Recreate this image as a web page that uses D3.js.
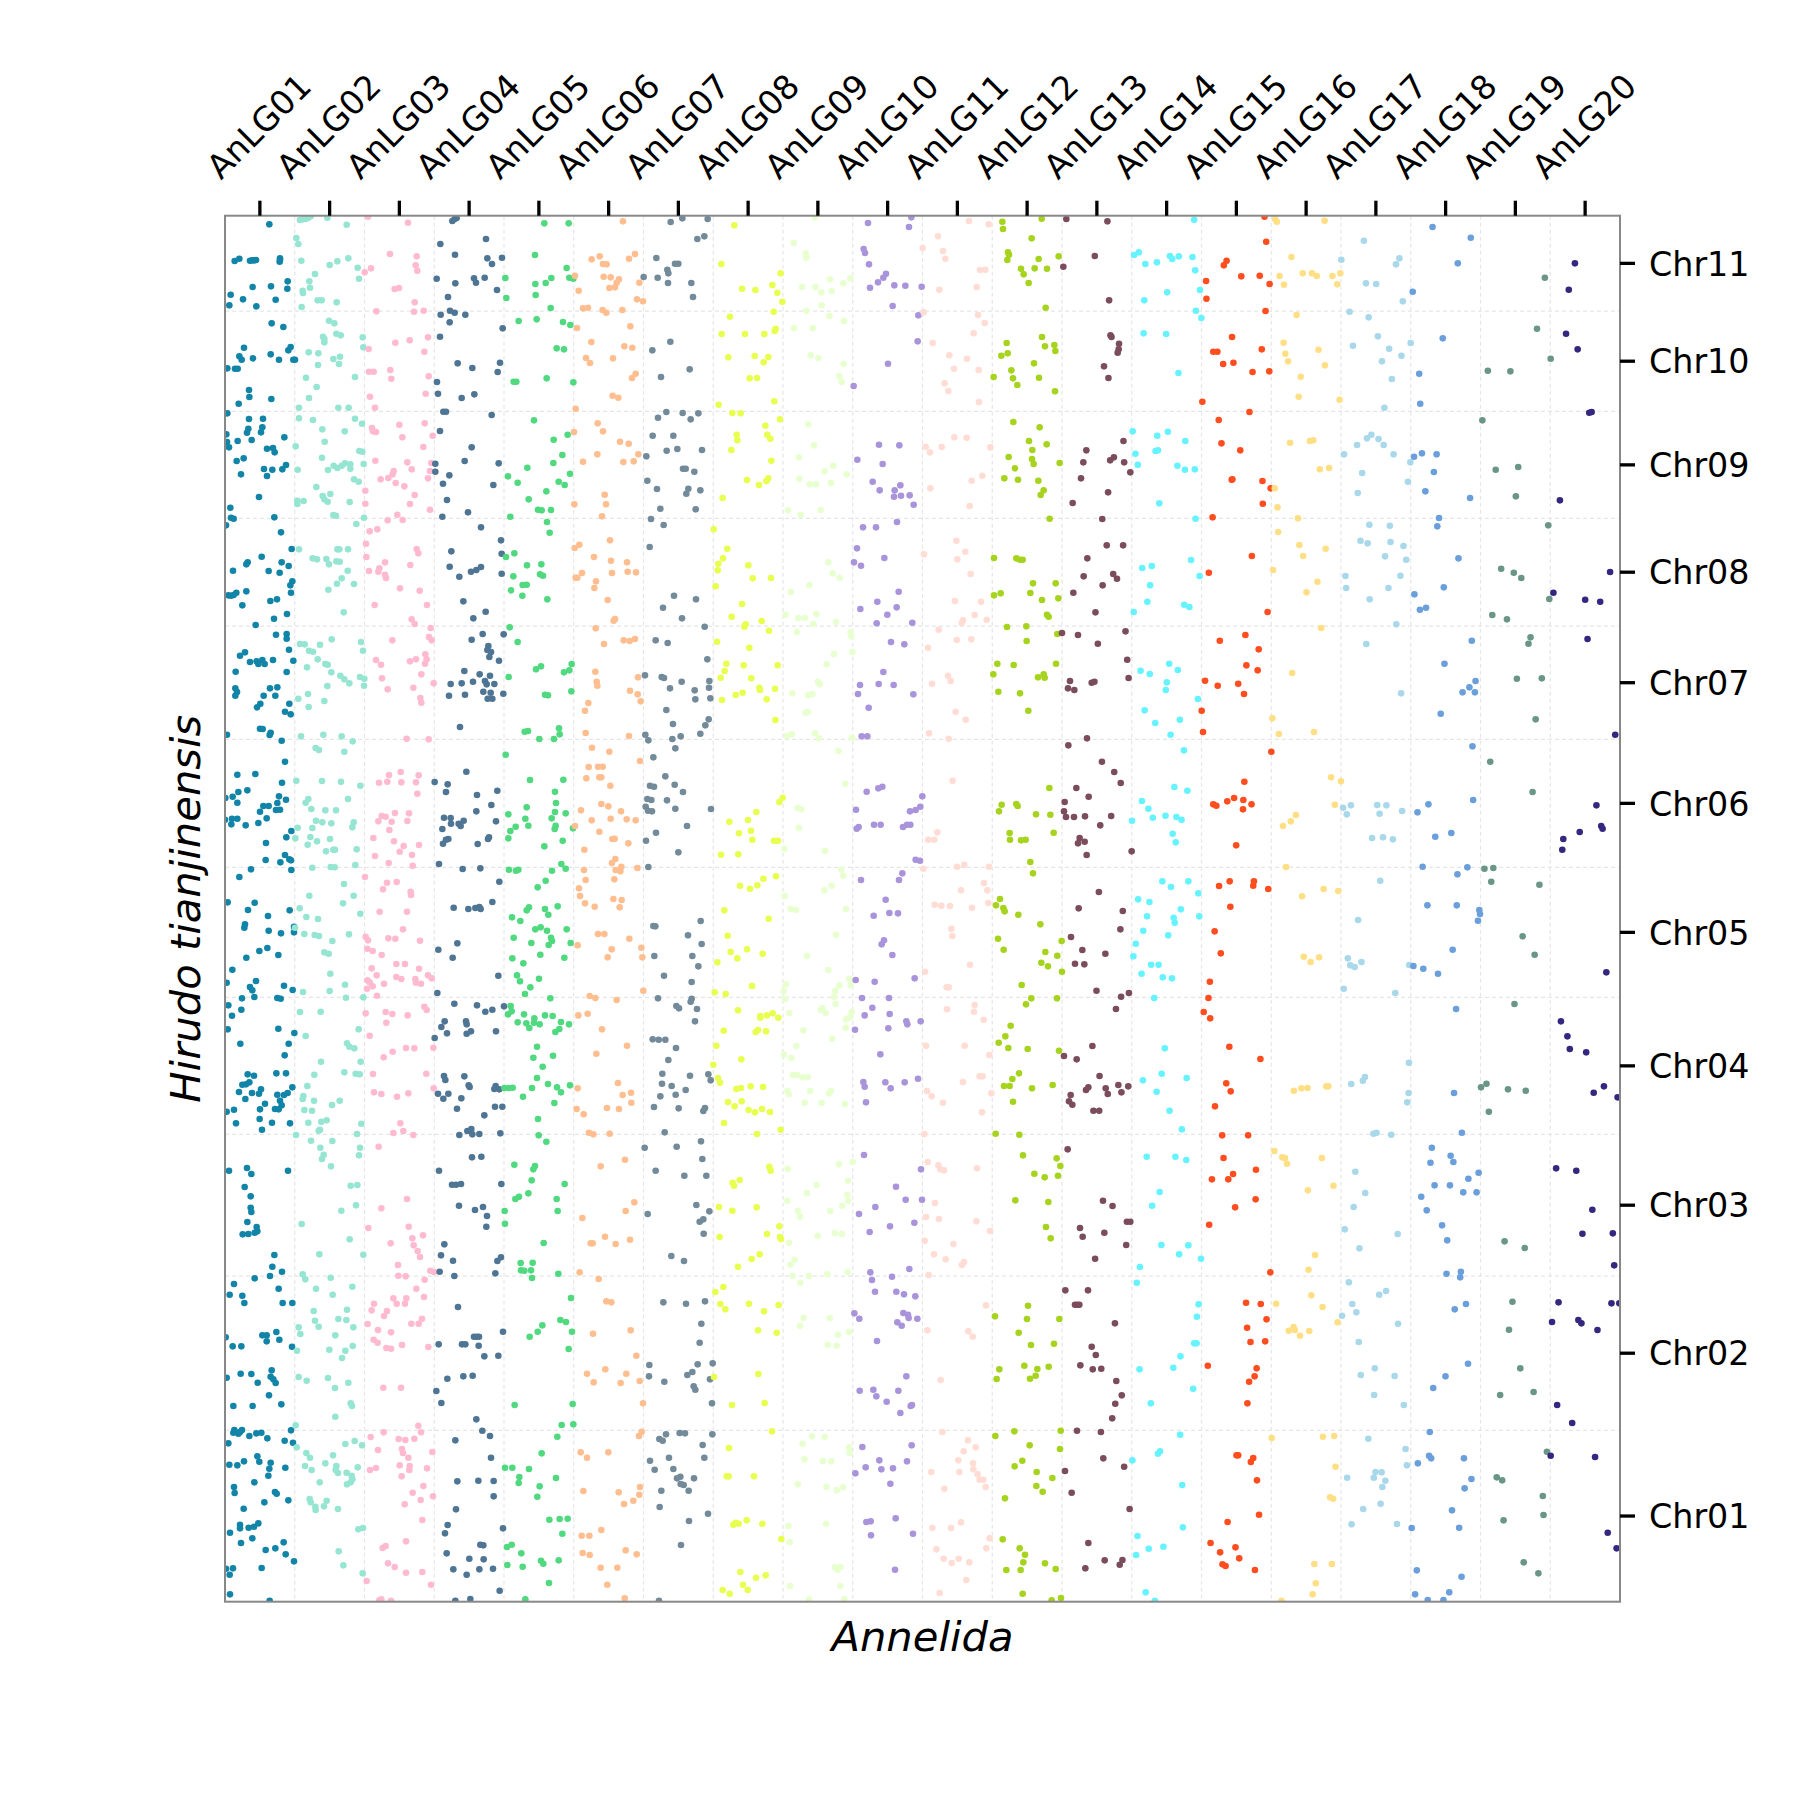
<!DOCTYPE html>
<html><head><meta charset="utf-8">
<script src="https://cdn.jsdelivr.net/npm/d3@7"></script>
<style>html,body{margin:0;padding:0;background:#fff}svg{display:block}text{font-family:"DejaVu Sans",sans-serif;fill:#000}</style>
</head><body><div id="chart"></div>
<script>
const anlgLabels=["AnLG01","AnLG02","AnLG03","AnLG04","AnLG05","AnLG06","AnLG07","AnLG08","AnLG09","AnLG10","AnLG11","AnLG12","AnLG13","AnLG14","AnLG15","AnLG16","AnLG17","AnLG18","AnLG19","AnLG20"];
const chrLabels=["Chr01","Chr02","Chr03","Chr04","Chr05","Chr06","Chr07","Chr08","Chr09","Chr10","Chr11"];
const chrEdges=[4175,3661,3198,2773,2362,1972,1588,1248,925,604,303,17];
const colours=["#1184a7","#96e5d3","#ffbad1","#4f7594","#50d97f","#ffbe8f","#728a99","#e9ff4f","#e8ffd0","#a994dc","#ffdcd4","#a6d41e","#7a4c5c","#66f3ff","#ff4d1f","#ffdf85","#a8d8ea","#6a9fdc","#6a9688","#35277f"];

const s01=[[148,43],[44,153],[58,146],[90,152],[97,151],[103,151],[108,150],[180,145],[179,155],[180,150],[203,214],[202,236],[153,229],[98,231],[32,254],[69,268],[167,269],[28,286],[109,289],[155,340],[190,351],[72,413],[212,411],[205,421],[58,439],[65,449],[99,445],[152,433],[177,449],[220,449],[225,449],[22,475],[45,476],[53,476],[87,540],[88,561],[154,567],[56,581],[22,610],[87,627],[129,626],[85,656],[127,652],[123,667],[81,668],[19,673],[53,693],[95,690],[193,682],[21,696],[27,712],[141,716],[159,714],[164,727],[71,745],[50,753],[132,777],[157,779],[198,765],[187,778],[63,793],[141,798],[117,861],[31,893],[33,923],[41,926],[163,922],[18,946],[183,967],[215,1017],[125,1040],[83,1057],[79,1063],[185,1057],[206,1068],[39,1082],[146,1083],[179,1088],[217,1114],[211,1126],[213,1148],[49,1148],[79,1144],[25,1156],[33,1157],[41,1155],[171,1168],[151,1173],[67,1186],[201,1212],[162,1226],[107,1245],[168,1274],[200,1272],[200,1286],[207,1319],[75,1327],[60,1337],[90,1356],[110,1354],[127,1350],[115,1362],[134,1362],[159,1350],[220,1352],[47,1385],[200,1386],
[46,1435],[51,1446],[46,1457],[150,1435],[172,1432],[131,1457],[166,1457],[208,1481],[121,1481],[111,1492],[195,1505],[212,1513],[120,1556],[128,1557],[152,1568],[149,1575],[21,1574],[185,1592],[195,1655],[52,1694],[106,1692],[186,1718],[82,1741],[55,1746],[38,1760],[16,1764],[52,1778],[177,1759],[198,1769],[172,1779],[130,1788],[146,1788],[168,1800],[180,1799],[120,1805],[140,1825],[36,1826],[52,1826],[15,1829],[34,1843],[77,1846],[115,1839],[214,1863],[199,1882],[138,1899],[195,1935],[137,1950],[181,1957],[208,1948],[213,1951],[214,1980],[93,1978],[58,2001],[23,2077],[104,2078],[84,2100],[209,2101],[144,2118],[75,2143],[73,2153],[146,2162],[183,2170],[222,2167],[222,2150],[175,2235],[142,2214],[118,2223],[79,2243],[37,2279],[20,2318],[108,2313],[192,2327],[218,2340],[90,2331],[97,2341],[66,2365],[103,2361],[172,2364],[182,2366],[25,2386],[64,2399],[36,2417],[175,2456],[23,2458],[223,2469],[61,2501],[206,2501],[194,2536],[83,2593],[102,2597],[169,2590],[198,2590],[67,2624],[78,2623],[88,2617],[123,2638],[217,2632],[57,2646],[96,2649],[117,2651],[172,2654],[192,2655],[203,2649],[76,2667],[180,2672],[135,2681],[185,2686],[165,2697],[176,2698],[20,2705],[42,2699],[120,2698],[119,2727],[48,2740],[156,2738],[210,2740],[126,2759],
[27,2882],[81,2874],[94,2892],[204,2882],[74,2931],[92,2959],[92,2993],[94,3006],[82,3036],[110,3051],[112,3064],[104,3068],[68,3073],[85,3072],[163,3135],[157,3170],[186,3185],[150,3198],[104,3205],[42,3222],[29,3254],[67,3257],[176,3236],[73,3279],[188,3279],[217,3279],[17,3382],[127,3376],[140,3376],[169,3366],[178,3389],[140,3394],[38,3409],[64,3409],[216,3410],[155,3481],[152,3500],[160,3508],[167,3519],[20,3503],[62,3491],[94,3492],[113,3518],[147,3556],[184,3583],[40,3588],[98,3588],[213,3661],[43,3660],[40,3668],[66,3660],[55,3671],[60,3666],[88,3678],[109,3670],[124,3668],[142,3685],[25,3700],[194,3692],[219,3698],[112,3739],[118,3755],[72,3754],[52,3766],[28,3764],[152,3758],[148,3776],[196,3773],[145,3797],[103,3817],[42,3831],[44,3849],[165,3846],[170,3851],[133,3877],[205,3871],[71,3896],[115,3940],[102,3950],[86,3953],[60,3944],[60,3955],[30,3968],[97,3985],[63,3999],[191,3997],[166,4015],[137,4020],[197,4033],[222,4054],[18,4076],[39,4075],[125,4074],[29,4094],[30,4153],[149,4172]];

const s02=[[240,30],[248,28],[256,27],[264,24],[272,19],[322,23],[380,44],[229,84],[235,102],[244,152],[329,165],[352,154],[385,145],[413,173],[417,206],[285,192],[268,214],[270,233],[248,242],[249,249],[293,271],[305,271],[350,277],[245,291],[327,332],[343,340],[309,380],[313,387],[313,397],[349,371],[362,376],[428,382],[430,412],[266,427],[295,430],[340,447],[360,440],[294,465],[357,462],[258,503],[405,501],[290,531],[267,564],[237,593],[355,593],[386,593],[237,625],[279,630],[405,626],[426,641],[307,658],[374,664],[314,695],[227,709],[418,723],[427,725],[306,743],[233,779],[324,780],[341,767],[352,774],[365,767],[375,760],[391,763],[391,776],[431,762],[402,808],[416,815],[289,831],[308,858],[331,852],[313,868],[323,875],[232,872],[232,882],[251,873],[389,876],[340,915],[348,917],[432,923],[409,942],[237,1018],[352,1018],[358,1018],[384,1018],[278,1045],[291,1048],[319,1047],[349,1054],[359,1055],[327,1063],[383,1082],[365,1105],[351,1121],[402,1122],[325,1139],[371,1207],[240,1302],[254,1303],[300,1304],[335,1288],[423,1296],[267,1322],[279,1325],[429,1322],[293,1348],[316,1362],[323,1364],[261,1372],[334,1387],[361,1397],[373,1408],[420,1401],[433,1406],
[388,1420],[322,1428],[432,1427],[235,1466],[264,1452],[313,1473],[266,1491],[243,1579],[310,1574],[365,1579],[398,1594],[287,1614],[297,1620],[373,1625],[268,2057],[372,2022],[401,2057],[369,2080],[229,1712],[306,1713],[363,1715],[421,1727],[384,1767],[265,1767],[257,1778],[274,1797],[316,1801],[348,1801],[288,1832],[307,1837],[334,1840],[401,1837],[397,1852],[233,1853],[277,1854],[271,1881],[226,1885],[330,1887],[291,1894],[263,1904],[318,1924],[340,1919],[345,1919],[410,1918],[277,1973],[332,1971],[344,1972],[406,1965],[239,2095],[259,2121],[294,2127],[421,2111],[225,2153],[253,2172],[284,2175],[297,2178],[387,2173],[337,2193],[313,2227],[326,2231],[331,2291],[375,2324],[329,2343],[249,2346],[378,2363],[430,2362],[240,2406],[302,2405],[416,2458],[257,2478],[381,2500],[388,2510],[403,2515],[303,2555],[422,2555],[373,2587],[283,2594],[407,2591],[419,2593],[262,2628],[250,2658],[248,2667],[282,2672],[359,2672],[336,2685],[253,2700],[276,2702],[265,2738],[304,2735],[320,2731],[424,2741],[300,2759],[296,2762],[228,2775],[411,2772],[273,2792],[337,2793],[301,2813],[420,2813],
[311,2834],[306,2847],[417,2836],[333,2869],[392,2927],[412,2925],[408,2986],[364,3002],[245,3042],[389,3088],[298,3133],[430,3134],[248,3193],[256,3208],[332,3203],[397,3230],[288,3236],[338,3254],[281,3303],[381,3299],[236,3352],[285,3332],[296,3350],[355,3327],[379,3330],[400,3352],[241,3372],[346,3376],[398,3408],[328,3419],[231,3422],[376,3422],[366,3444],[236,3501],[260,3512],[324,3504],[385,3518],[345,3534],[392,3580],[396,3588],[346,3620],[227,3646],[376,3702],[404,3693],[426,3706],[230,3712],[259,3729],[270,3743],[339,3736],[255,3768],[275,3780],[316,3760],[349,3768],[347,3780],[354,3789],[413,3772],[380,3788],[395,3797],[397,3808],[392,3817],[381,3823],[299,3817],[269,3867],[272,3877],[320,3872],[286,3890],[287,3900],[312,3889],[354,3897],[415,3958],[429,3954],[356,4024],[370,4066],[428,4090]];

const s03=[[444,20],[564,38],[510,132],[590,139],[587,166],[592,182],[453,175],[434,187],[524,237],[537,234],[584,277],[469,304],[582,305],[611,302],[624,382],[569,391],[526,398],[446,417],[613,425],[447,485],[461,485],[511,480],[514,506],[626,499],[450,560],[617,551],[465,593],[614,640],[538,644],[456,654],[459,664],[468,666],[547,682],[638,677],[610,711],[466,752],[562,757],[575,778],[634,759],[630,783],[521,783],[518,793],[505,804],[482,808],[624,805],[527,819],[553,829],[436,842],[584,855],[436,881],[570,882],[630,899],[532,914],[503,931],[548,930],[472,958],[449,964],[438,1001],[590,1017],[595,1030],[439,1041],[495,1057],[571,1065],[447,1083],[478,1075],[475,1085],[495,1094],[498,1104],[540,1135],[599,1142],[464,1185],[621,1185],[575,1228],[584,1242],[632,1254],[517,1291],[627,1281],[635,1291],[616,1333],[468,1350],[483,1364],[570,1354],[588,1348],[620,1348],[615,1361],[604,1393],[486,1405],
[503,1438],[580,1433],[641,1420],[601,1464],[604,1478],[560,1586],[626,1588],[507,1695],[542,1686],[596,1696],[477,1718],[502,1715],[544,1717],[588,1717],[592,1751],[485,1818],[497,1820],[525,1809],[567,1810],[475,1834],[515,1835],[562,1833],[508,1860],[460,1884],[522,1894],[551,1908],[597,1905],[539,1925],[576,1935],[465,1938],[506,1959],[578,1967],[435,2001],[501,2018],[530,2016],[489,2038],[572,2045],[573,2055],[479,2105],[561,2105],[549,2158],[437,2180],[444,2191],[505,2185],[526,2186],[600,2192],[442,2216],[458,2223],[485,2235],[529,2262],[555,2262],[455,2275],[597,2276],[470,2296],[529,2301],[544,2307],[624,2296],[635,2305],[442,2311],[449,2317],[492,2321],[586,2307],[588,2318],[603,2321],[458,2329],[441,2336],[471,2357],[437,2410],[497,2406],[517,2412],[563,2416],[613,2390],[620,2400],[499,2438],[449,2477],[558,2514],[583,2515],[640,2513],[518,2525],[491,2542],[459,2592],[619,2591],[641,2635],[462,2647],[484,2652],[531,2660],[565,2650],[541,2740],[520,2769],[550,2763],[580,2775],[476,2810],
[561,2967],[484,2995],[445,3054],[566,3050],[609,3076],[577,3085],[512,3100],[581,3106],[593,3123],[600,3141],[534,3165],[631,3182],[642,3186],[535,3197],[557,3199],[614,3209],[589,3236],[612,3261],[520,3265],[559,3265],[462,3281],[530,3281],[555,3281],[455,3301],[501,3303],[492,3318],[606,3326],[574,3341],[596,3341],[443,3342],[474,3360],[513,3367],[461,3389],[473,3398],[546,3405],[499,3414],[513,3416],[625,3411],[490,3533],[543,3533],[595,3647],[603,3667],[491,3667],[452,3681],[536,3687],[556,3690],[583,3686],[474,3720],[546,3717],[549,3729],[637,3726],[565,3743],[539,3766],[569,3768],[568,3780],[468,3774],[450,3780],[621,3775],[545,3799],[610,3828],[578,3848],[639,3859],[602,3870],[554,3883],[607,3930],[558,3994],[497,4008],[488,4014],[504,4060],[524,4071],[558,4088],[607,4086],[440,4113],[633,4124],[484,4168],[478,4171],[513,4172]];

const s04=[[697,33],[704,27],[710,24],[661,102],[798,87],[705,134],[802,145],[846,143],[816,162],[650,206],[706,220],[762,205],[768,218],[794,203],[831,240],[684,261],[690,302],[704,308],[662,314],[736,314],[689,337],[848,355],[660,380],[713,460],[757,474],[840,458],[833,486],[651,516],[654,551],[725,564],[763,553],[670,605],[678,605],[815,615],[660,663],[755,712],[734,753],[646,761],[646,785],[836,760],[688,796],[669,821],[820,825],[681,870],[667,920],[744,907],[783,952],[843,991],[694,1024],[845,1031],[689,1070],[753,1085],[769,1080],[783,1071],[718,1100],[845,1091],[730,1174],[797,1205],[760,1225],[788,1272],[851,1273],[755,1289],[805,1308],[802,1320],[813,1326],[808,1341],[837,1352],[733,1383],[779,1393],[810,1397],
[692,1422],[725,1420],[759,1415],[795,1413],[800,1423],[823,1422],[790,1445],[812,1448],[687,1457],[735,1454],[850,1451],[803,1466],[817,1466],[720,1551],[739,1685],[644,1716],[683,1723],[678,1746],[832,1742],[771,1755],[814,1785],[769,1804],[672,1823],[692,1824],[693,1841],[731,1832],[716,1841],[722,1848],[667,1857],[828,1834],[685,1887],[678,1889],[669,1901],[807,1882],[804,1887],[773,1902],[657,1962],[728,1977],[781,1975],[838,2015],[817,2076],[701,2093],[745,2097],[766,2094],[778,2091],[782,2097],[712,2200],[655,2219],[698,2243],[835,2297],[652,2349],[703,2381],[771,2386],[852,2389],[796,2405],[817,2399],[674,2434],[738,2434],[740,2443],[664,2451],[681,2470],[740,2471],[753,2464],[828,2464],[644,2484],[672,2598],[676,2610],[733,2599],[746,2626],[749,2631],[827,2628],[823,2637],[838,2638],[654,2651],[685,2651],[670,2666],[724,2665],[711,2696],[825,2690],[847,2690],[793,2716],[718,2775],[742,2763],[754,2757],[757,2773],[778,2772],[841,2770],
[756,2842],[784,2840],[657,2882],[696,2924],[708,2924],[723,2922],[844,2922],[717,2987],[789,2991],[765,3000],[801,3018],[799,3050],[673,3103],[663,3136],[699,3152],[843,3142],[832,3153],[659,3185],[703,3198],[826,3190],[714,3291],[849,3365],[656,3403],[762,3380],[770,3380],[777,3380],[726,3403],[736,3403],[776,3407],[793,3439],[835,3437],[682,3506],[730,3499],[758,3497],[649,3543],[664,3579],[769,3628],[787,3662],[810,3678],[706,3691],[813,3743],[712,3814],[775,3812],[821,3813],[821,3859],[708,3898],[683,3945],[675,3970],[849,3955],[781,4004],[790,4006],[680,4030],[748,4046],[791,4048],[700,4078],[778,4078],[819,4076],[740,4094],[839,4142],[706,4172],[751,4167]];

const s05=[[973,40],[1046,40],[945,135],[1040,174],[856,204],[994,204],[1048,203],[1060,206],[946,222],[977,219],[859,264],[947,255],[992,294],[896,333],[950,328],[1029,336],[1051,345],[1010,415],[1032,418],[881,515],[889,515],[980,505],[1060,517],[942,631],[1001,689],[1043,674],[1027,735],[1000,759],[922,773],[864,799],[893,818],[1050,791],[1016,815],[1034,825],[979,844],[926,868],[954,899],[965,901],[993,900],[871,920],[981,936],[989,968],[883,1030],[858,1041],[921,1066],[964,1063],[880,1099],[960,1093],[969,1097],[908,1125],[920,1124],[873,1141],[907,1157],[982,1168],[869,1252],[893,1296],[948,1378],[963,1369],[1055,1362],[1032,1387],[1048,1381],[866,1401],
[1054,1444],[975,1454],[984,1456],[1017,1555],[914,1565],[924,1563],[1019,1573],[958,1587],[1002,1587],[857,1634],[930,1710],[1030,1709],[1005,1745],[1008,1779],[920,1792],[1005,1806],[1037,1810],[865,1813],[995,1825],[916,1826],[925,1847],[887,1850],[871,1863],[865,1885],[1007,1847],[1004,1857],[1059,1855],[1028,1892],[973,1909],[867,1979],[888,1982],[895,1979],[1024,1962],[1037,1976],[996,1982],[977,2012],[953,2032],[1013,2089],[975,2097],[927,2092],[920,2101],[985,2114],[876,2122],[901,2133],[946,2158],[962,2152],[981,2162],[1040,2158],[881,2183],[993,2183],[996,2193],[934,2199],[986,2205],[1052,2199],[961,2234],[877,2245],[910,2260],[1033,2243],[891,2296],[957,2306],[900,2314],[931,2332],[915,2352],[991,2365],[872,2388],[875,2404],[864,2413],[912,2413],[975,2416],[998,2418],[943,2425],[893,2437],[919,2440],[942,2438],[928,2454],[959,2443],[1023,2436],[1047,2443],[1018,2457],[1006,2466],[951,2510],[999,2537],[940,2543],[968,2570],[951,2604],[853,2634],[866,2634],[878,2633],[936,2634],[984,2622],[1011,2632],[1023,2647],[1050,2626],[909,2660],[1003,2679],[954,2727],[956,2776],[979,2795],
[883,2864],[945,2868],[940,2878],[935,2911],[1034,2922],[925,2950],[897,2960],[886,2967],[1010,2967],[854,3003],[1013,3003],[855,3041],[971,3099],[902,3159],[938,3158],[903,3181],[913,3182],[933,3181],[1015,3191],[936,3204],[1053,3264],[1021,3330],[1038,3336],[967,3346],[953,3365],[1056,3365],[929,3380],[1046,3417],[884,3585],[1058,3582],[1025,3645],[1060,3643],[1012,3680],[965,3730],[855,3773],[877,3773],[927,3777],[898,3801],[896,3819],[1008,3804],[959,3829],[952,3860],[988,3929],[1019,3927],[1043,3926],[1027,3971],[861,4011],[875,4004],[904,4030],[963,4052],[970,4061],[1016,4051],[862,4065],[908,4070],[987,4119],[916,4168]];

const s06=[[1209,34],[1115,148],[1139,139],[1227,146],[1245,132],[1149,162],[1160,163],[1065,197],[1151,200],[1172,202],[1197,208],[1190,218],[1258,218],[1185,232],[1168,234],[1076,242],[1251,268],[1269,274],[1089,295],[1104,293],[1148,300],[1159,308],[1207,300],[1231,349],[1071,354],[1114,396],[1213,409],[1237,413],[1098,444],[1110,459],[1179,445],[1247,491],[1236,504],[1178,557],[1195,563],[1067,596],[1133,640],[1062,666],[1149,664],[1200,695],[1226,701],[1132,733],[1255,733],[1089,755],[1210,756],[1241,754],[1154,854],[1063,883],[1158,883],[1146,919],[1170,991],[1078,1004],[1064,1014],[1122,1041],[1173,1052],[1221,1057],[1086,1089],[1176,1089],[1223,1085],[1248,1087],[1067,1103],[1072,1103],[1128,1114],[1123,1134],[1163,1170],[1185,1227],[1181,1232],[1127,1255],[1211,1291],[1229,1293],[1245,1287],[1152,1302],[1126,1385],[1254,1402],
[1130,1415],[1132,1427],[1230,1442],[1253,1453],[1262,1474],[1105,1479],[1095,1502],[1097,1569],[1227,1578],[1116,1613],[1168,1625],[1260,1653],[1106,1671],[1134,1670],[1148,1670],[1099,1705],[1138,1702],[1144,1702],[1171,1727],[1144,1782],[1165,1789],[1083,1801],[1203,1804],[1115,1831],[1172,1826],[1220,1828],[1247,1831],[1065,1848],[1138,1865],[1177,1887],[1184,1886],[1225,1900],[1093,1919],[1186,1947],[1176,1959],[1204,1970],[1187,1980],[1201,1984],[1252,1974],[1092,1980],[1097,2010],[1183,2008],[1077,2035],[1080,2058],[1180,2067],[1205,2070],[1095,2080],[1124,2090],[1199,2092],[1134,2172],[1153,2172],[1228,2186],[1073,2206],[1264,2213],[1175,2218],[1163,2242],[1267,2242],[1270,2342],[1109,2358],[1126,2364],[1190,2370],[1075,2416],[1103,2411],[1146,2458],[1221,2507],[1129,2531],[1194,2619],[1073,2635],[1233,2648],[1208,2655],[1234,2678],[1161,2694],[1197,2697],[1070,2697],[1091,2713],[1107,2768],[1120,2773],[1169,2771],
[1215,2849],[1142,2869],[1243,2977],[1217,3003],[1087,3024],[1155,3080],[1230,3089],[1112,3100],[1118,3100],[1187,3102],[1079,3187],[1136,3207],[1159,3274],[1174,3277],[1119,3371],[1232,3361],[1249,3437],[1156,3478],[1101,3491],[1219,3491],[1121,3517],[1202,3519],[1259,3513],[1269,3580],[1265,3665],[1257,3678],[1082,3727],[1101,3743],[1165,3727],[1090,3843],[1196,3847],[1260,3831],[1258,3854],[1240,3872],[1212,3882],[1144,3960],[1085,3977],[1108,3977],[1217,4021],[1088,4029],[1109,4035],[1250,4033],[1142,4073],[1192,4073],[1162,4124],[1214,4165]];

const s07=[[1387,25],[1352,36],[1463,27],[1453,79],[1432,87],[1309,144],[1365,161],[1375,161],[1342,179],[1345,190],[1271,201],[1313,203],[1344,219],[1414,219],[1419,261],[1351,395],[1297,421],[1409,478],[1323,501],[1339,606],[1388,609],[1435,610],[1314,623],[1412,628],[1298,677],[1360,677],[1340,722],[1372,717],[1446,720],[1279,739],[1389,776],[1397,776],[1423,785],[1282,812],[1311,837],[1405,836],[1399,851],[1441,841],[1321,896],[1427,898],[1293,927],[1331,945],[1289,1011],[1362,1157],[1428,1168],[1329,1193],[1386,1225],[1454,1250],[1307,1291],[1343,1299],[1462,1348],[1275,1396],[1325,1401],[1332,1404],
[1385,1415],[1468,1413],[1467,1433],[1350,1435],[1424,1441],[1426,1468],[1471,1465],[1339,1500],[1466,1528],[1359,1542],[1456,1546],[1441,1571],[1276,1574],[1285,1591],[1357,1587],[1382,1579],[1366,1615],[1300,1642],[1336,1699],[1364,1724],[1290,1727],[1302,1730],[1389,1746],[1282,1767],[1294,1770],[1341,1771],[1277,1790],[1284,1802],[1296,1804],[1366,1796],[1473,1797],[1401,1848],[1308,1868],[1278,1892],[1375,1927],[1285,1971],[1442,2133],[1300,2148],[1306,2149],[1404,2176],[1445,2202],[1303,2238],[1417,2238],[1435,2269],[1332,2297],[1415,2316],[1314,2365],[1415,2366],[1412,2375],[1369,2388],[1377,2395],[1431,2397],[1425,2434],[1298,2488],[1316,2489],[1336,2489],[1368,2514],[1345,2550],[1327,2591],[1410,2597],[1465,2593],[1472,2611],[1326,2621],[1355,2628],[1397,2640],[1367,2654],[1321,2659],[1302,2691],[1376,2695],[1455,2694],[1450,2703],[1334,2767],[1443,2794],[1274,2813],[1370,2810],
[1447,2847],[1307,2882],[1393,2897],[1459,2897],[1429,2985],[1468,3004],[1283,3012],[1450,3028],[1439,3035],[1451,3071],[1354,3138],[1392,3153],[1330,3277],[1398,3281],[1455,3274],[1444,3341],[1439,3398],[1288,3465],[1433,3463],[1478,3460],[1417,3486],[1402,3495],[1287,3499],[1333,3515],[1470,3508],[1421,3529],[1426,3539],[1476,3580],[1338,3673],[1379,3669],[1395,3670],[1318,3687],[1328,3692],[1477,3673],[1448,3705],[1347,3743],[1453,3743],[1290,3752],[1304,3779],[1360,3777],[1381,3800],[1371,3805],[1422,3805],[1382,3822],[1391,3825],[1324,3842],[1406,3842],[1319,3891],[1464,3911],[1407,3933],[1383,4005],[1317,4172]];

const s08=[[1543,46],[1504,162],[1682,190],[1566,236],[1606,240],[1657,225],[1672,248],[1687,275],[1661,305],[1530,320],[1667,356],[1664,363],[1505,372],[1575,372],[1633,372],[1525,442],[1604,438],[1645,441],[1631,457],[1589,505],[1611,504],[1663,574],[1496,584],[1537,609],[1562,610],[1680,628],[1636,647],[1550,674],[1642,674],[1651,686],[1552,691],[1534,720],[1654,752],[1581,810],[1645,805],[1639,813],[1617,825],[1508,864],[1481,958],[1522,1016],[1509,1045],[1495,1061],[1493,1081],[1585,1066],[1598,1105],[1653,1104],[1487,1129],[1566,1182],[1535,1220],[1625,1233],[1577,1243],[1573,1250],[1647,1262],[1491,1295],[1588,1313],[1519,1361],[1571,1366],[1673,1366],[1514,1383],[1594,1405],[1502,1403],
[1618,1433],[1620,1440],[1665,1436],[1568,1448],[1547,1455],[1506,1470],[1640,1468],[1666,1530],[1688,1763],[1678,1776],[1609,1806],[1584,1830],[1528,1835],[1593,1862],[1557,1870],[1597,1889],[1662,1892],[1674,1892],[1503,1934],[1555,1933],[1630,2006],[1668,1999],[1560,2027],[1612,2026],[1590,2036],[1513,2101],[1646,2126],[1523,2177],[1581,2218],[1532,2226],[1628,2231],[1552,2245],[1492,2257],[1596,2328],[1484,2347],[1517,2352],[1554,2401],[1621,2418],[1621,2423],[1641,2416],[1658,2410],[1675,2423],[1511,2462],[1607,2466],[1614,2460],[1638,2464],[1489,2507],[1564,2548],[1480,2564],[1494,2604],[1500,2618],[1549,2637],[1563,2634],[1592,2629],[1629,2631],[1524,2676],[1565,2674],[1544,2689],[1586,2700],[1605,2707],[1626,2697],[1650,2706],[1512,2739],[1611,2772],[1682,2759],
[1648,2870],[1652,2882],[1559,2910],[1538,2918],[1542,2927],[1497,2991],[1537,3002],[1610,2992],[1678,3049],[1641,3072],[1499,3081],[1680,3081],[1683,3087],[1619,3133],[1595,3147],[1554,3170],[1510,3231],[1486,3246],[1501,3282],[1516,3298],[1587,3281],[1632,3304],[1676,3285],[1614,3361],[1670,3368],[1615,3492],[1482,3501],[1536,3585],[1634,3579],[1656,3664],[1527,3714],[1520,3799],[1526,3799],[1602,3799],[1540,3944],[1547,3938],[1556,3941],[1580,3931],[1627,3941],[1684,3987],[1561,4086],[1637,4096],[1608,4103],[1569,4124],[1583,4140],[1508,4140],[1529,4151]];

const s09=[[1785,22],[1721,99],[1757,130],[1759,143],[1830,208],[1891,205],[1870,220],[1746,231],[1786,231],[1804,247],[1835,243],[1805,286],[1759,302],[1828,318],[1872,333],[1722,355],[1778,355],[1772,436],[1795,444],[1871,461],[1858,498],[1865,516],[1765,643],[1782,706],[1737,742],[1840,767],[1814,784],[1880,793],[1738,806],[1769,823],[1788,823],[1833,819],[1704,901],[1742,914],[1802,900],[1825,1057],[1838,1090],[1859,1103],[1768,1125],[1712,1146],[1697,1214],[1735,1224],[1755,1224],[1789,1212],[1780,1242],[1848,1236],[1731,1266],[1892,1267],[1894,1279],[1897,1326],[1842,1332],[1820,1363],
[1794,1415],[1799,1423],[1717,1450],[1777,1452],[1764,1456],[1757,1508],[1764,1506],[1701,1578],[1716,1573],[1785,1570],[1797,1585],[1896,1583],[1855,1623],[1876,1721],[1733,1794],[1744,1798],[1736,1853],[1693,1916],[1815,1923],[1864,1979],[1870,1997],[1835,2027],[1813,2041],[1694,2058],[1712,2097],[1728,2099],[1878,2097],[1848,2174],[1761,2238],[1825,2280],[1888,2306],[1858,2326],[1892,2326],[1698,2323],[1691,2344],[1846,2343],[1842,2360],[1695,2367],[1847,2382],[1807,2395],[1802,2400],[1817,2408],[1895,2405],[1708,2409],[1890,2422],[1878,2428],[1877,2453],[1750,2461],[1837,2486],[1729,2508],[1692,2534],[1714,2544],[1719,2595],[1731,2595],[1748,2602],[1764,2601],[1702,2643],[1707,2653],[1771,2643],[1832,2643],[1827,2650],[1754,2678],[1805,2679],[1875,2682],
[1898,2856],[1857,2863],[1703,2877],[1884,2912],[1790,2925],[1761,2949],[1882,2954],[1885,2972],[1702,2972],[1867,2987],[1734,3003],[1831,3003],[1740,3020],[1845,3069],[1866,3072],[1793,3077],[1707,3098],[1724,3149],[1711,3164],[1883,3186],[1822,3193],[1718,3197],[1767,3198],[1741,3218],[1751,3323],[1829,3324],[1740,3348],[1887,3366],[1854,3374],[1823,3404],[1850,3407],[1776,3679],[1814,3680],[1748,3701],[1887,3712],[1889,3729],[1753,3748],[1809,3753],[1834,3754],[1733,3823],[1819,3831],[1850,3841],[1869,3832],[1705,3948],[1818,3941],[1709,3996],[1845,4072],[1862,4071],[1853,4079],[1861,4128],[1710,4128],[1767,4168],[1873,4168]];

const s10=[[2074,22],[1944,39],[2067,51],[1931,117],[1935,129],[1947,163],[1998,191],[1990,203],[1974,217],[1950,233],[2023,226],[2056,227],[2105,230],[2018,288],[2095,316],[2093,394],[2004,461],[1901,528],[1977,704],[2038,706],[1912,749],[1988,762],[1958,815],[2041,826],[2024,841],[1979,841],[2069,856],[2043,857],[2022,860],[2081,884],[2031,936],[1929,952],[1968,952],[1911,1015],[1993,1044],[1902,1057],[1923,1067],[2036,1145],[1972,1175],[2030,1192],[1921,1197],[2002,1214],[1970,1240],[2077,1238],[2013,1296],[2053,1303],[1990,1386],
[1920,1425],[1976,1422],[2021,1425],[1914,1452],[2080,1453],[1946,1493],[1925,1579],[1942,1579],[1987,1730],[1975,1735],[1940,1745],[2107,1759],[1908,1799],[2101,1790],[2087,1800],[2070,1804],[1962,1844],[1982,1844],[2071,1844],[2061,1844],[2049,1851],[1916,1851],[1910,1856],[2087,1949],[2100,1952],[2047,1990],[2037,2010],[1923,2010],[1997,2069],[2008,2109],[2034,2110],[1961,2117],[1992,2191],[1985,2203],[2017,2235],[2084,2305],[1907,2310],[1964,2315],[1926,2364],[2007,2364],[1957,2393],[1934,2416],[2009,2412],[2059,2434],[2062,2443],[2102,2434],[1905,2459],[2005,2455],[1981,2533],[1930,2616],[1934,2630],[1996,2617],[2012,2635],[2054,2617],[2094,2606],[1938,2677],
[1932,2835],[2103,2878],[2028,2930],[2057,2969],[2106,2969],[1966,2991],[1917,3012],[2010,3049],[2083,3038],[1949,3066],[2068,3177],[1951,3187],[2016,3200],[1956,3210],[1965,3245],[2029,3245],[2052,3253],[2086,3259],[1903,3310],[1918,3326],[2050,3309],[2064,3314],[2066,3324],[2092,3326],[2032,3337],[2045,3347],[1971,3393],[2059,3499],[1919,3542],[1960,3539],[2035,3542],[1969,3559],[2000,3575],[2076,3585],[2072,3588],[2041,3609],[1927,3711],[2075,3706],[1978,3751],[2061,3754],[1937,3772],[1984,3778],[2019,3775],[1906,3790],[2011,3821],[1939,3936],[1952,3934],[2027,3925],[1953,3976],[2079,3971],[2025,4079]];

const s11=[[2247,33],[2306,43],[2154,79],[2108,114],[2169,123],[2176,146],[2280,180],[2296,179],[2158,239],[2270,231],[2111,307],[2274,315],[2294,339],[2261,370],[2138,399],[2188,436],[2241,446],[2202,476],[2276,480],[2174,520],[2185,543],[2277,576],[2203,682],[2240,683],[2117,710],[2165,711],[2311,712],[2130,727],[2287,797],[2255,812],[2131,835],[2249,888],[2209,992],[2236,1025],[2112,1033],[2212,1048],[2252,1092],[2205,1173],[2283,1175],[2264,1215],[2229,1231],[2225,1239],[2300,1229],[2156,1259],[2210,1290],[2254,1288],[2124,1313],[2184,1397],
[2192,1413],[2136,1421],[2207,1505],[2237,1529],[2127,1570],[2186,1586],[2198,1712],[2152,1867],[2125,1889],[2143,1889],[2110,1976],[2211,1970],[2233,1964],[2307,1970],[2292,2019],[2223,2041],[2302,2041],[2144,2084],[2164,2087],[2190,2088],[2256,2093],[2305,2079],[2194,2156],[2197,2178],[2250,2264],[2115,2285],[2180,2332],[2186,2332],[2264,2385],[2181,2398],[2262,2405],[2291,2429],[2118,2507],[2234,2507],[2308,2535],[2279,2599],[2288,2599],[2229,2616],[2121,2643],[2135,2659],[2169,2678],[2314,2650],[2286,2707],[2113,2772],
[2123,2856],[2155,2866],[2161,2878],[2172,2881],[2271,2875],[2145,2979],[2118,3021],[2157,3027],[2269,3034],[2310,3063],[2114,3092],[2200,3102],[2142,3133],[2177,3148],[2232,3156],[2226,3165],[2126,3195],[2298,3286],[2122,3361],[2245,3364],[2258,3380],[2162,3510],[2167,3666],[2244,3691],[2267,3712],[2231,3724],[2215,3751],[2259,3760],[2134,3786],[2218,3786],[2260,3778],[2273,3793],[2279,3809],[2290,3809],[2297,3831],[2173,3836],[2137,3953],[2193,3954],[2223,3937],[2309,3985],[2299,4015],[2149,4018],[2171,4046],[2216,4046],[2195,4059],[2248,4057],[2239,4110],[2159,4149]];

const s12=[[2347,35],[2465,26],[2349,57],[2435,85],[2364,127],[2367,134],[2362,150],[2456,147],[2516,139],[2403,176],[2444,175],[2481,176],[2411,193],[2426,219],[2477,293],[2466,381],[2360,399],[2475,409],[2503,405],[2506,423],[2363,430],[2344,437],[2442,460],[2374,481],[2321,501],[2379,505],[2457,503],[2392,525],[2505,544],[2380,636],[2459,652],[2427,693],[2480,703],[2437,720],[2366,741],[2436,747],[2441,762],[2519,759],[2385,775],[2353,805],[2394,809],[2455,812],[2471,841],[2462,855],[2489,926],[2322,1044],[2389,1045],[2400,1049],[2408,1049],[2439,1120],[2507,1120],[2322,1156],[2342,1150],[2431,1149],[2466,1170],[2515,1165],[2481,1214],[2486,1220],[2361,1251],[2419,1249],[2512,1272],[2420,1293],[2332,1361],[2381,1365],[2508,1361],[2320,1393],[2471,1393],[2454,1402],[2474,1403],
[2335,1445],[2400,1450],[2425,1502],[2488,1734],[2345,1784],[2389,1782],[2393,1788],[2337,1804],[2448,1813],[2491,1814],[2369,1869],[2501,1868],[2370,1889],[2403,1891],[2417,1889],[2431,1956],[2439,1990],[2340,2067],[2328,2086],[2350,2094],[2354,2104],[2395,2114],[2461,2143],[2334,2186],[2525,2193],[2351,2219],[2476,2226],[2512,2237],[2464,2258],[2484,2269],[2526,2285],[2405,2325],[2434,2365],[2511,2365],[2418,2383],[2372,2447],[2356,2479],[2336,2498],[2365,2514],[2423,2517],[2517,2522],[2397,2590],[2377,2607],[2352,2628],[2369,2628],[2436,2635],[2498,2625],[2379,2675],[2327,2771],[2398,2774],
[2409,2836],[2510,2845],[2521,2868],[2443,2891],[2474,2902],[2514,2897],[2386,2971],[2485,2976],[2478,3051],[2492,3085],[2424,3287],[2325,3319],[2421,3327],[2518,3327],[2396,3368],[2433,3405],[2502,3401],[2413,3467],[2486,3470],[2452,3477],[2338,3478],[2447,3497],[2430,3506],[2330,3507],[2383,3664],[2522,3662],[2326,3678],[2429,3706],[2520,3717],[2407,3752],[2384,3769],[2450,3786],[2497,3804],[2449,3828],[2468,3845],[2355,3865],[2348,3988],[2399,4015],[2415,4034],[2410,4057],[2475,4060],[2359,4080],[2402,4080],[2507,4077],[2408,4151],[2523,4164],[2495,4171]];

const s13=[[2539,27],[2530,170],[2599,721],[2590,757],[2583,805],[2558,879],[2602,1045],[2591,1099],[2560,1148],[2526,1269],[2574,1275],
[2661,34],[2624,138],[2666,271],[2670,376],[2673,381],[2695,401],[2694,418],[2691,428],[2651,469],[2664,504],[2708,693],[2680,742],[2669,751],[2710,757],[2728,787],[2663,847],[2646,927],[2659,1006],[2707,1006],[2678,1092],[2689,1106],[2647,1126],[2626,1207],[2714,1264],[2633,1301],[2719,1349],[2723,1404],
[2550,1413],[2544,1435],[2563,1440],[2545,1606],[2601,1585],[2569,1734],[2606,1760],[2534,1776],[2532,1804],[2538,1821],[2562,1821],[2595,1819],[2579,1884],[2574,1900],[2594,1895],[2600,1935],[2576,2095],[2553,2181],[2587,2220],[2565,2261],[2593,2263],[2532,2538],[2570,2548],[2598,2640],[2605,2632],[2552,2655],[2547,2674],[2557,2684],[2543,2818],
[2615,1418],[2623,1415],[2645,1655],[2681,1686],[2700,1719],[2672,1818],[2640,1846],[2732,1924],[2636,2046],[2706,2103],[2699,2158],[2655,2231],[2629,2342],[2701,2360],[2724,2349],[2686,2397],[2617,2508],[2638,2598],[2656,2635],[2693,2625],[2722,2629],[2662,2652],[2702,2647],[2620,2702],[2637,2702],
[2580,3054],[2588,3080],[2536,3241],[2604,3241],[2565,3284],[2572,3284],[2578,3284],[2581,3466],[2571,3662],[2535,3783],[2555,3848],[2605,3999],[2596,4075],
[2648,2972],[2676,2988],[2718,3035],[2728,3035],[2652,3068],[2716,3105],[2625,3146],[2683,3340],[2615,3410],[2627,3435],[2618,3478],[2643,3476],[2687,3513],[2703,3556],[2684,3581],[2675,3625],[2642,3666],[2649,3745],[2710,3770],[2726,3897],[2653,4051],[2705,4050],[2697,4064]];

const s14=[[2915,29],[2739,135],[2753,127],[2772,162],[2806,157],[2844,138],[2851,147],[2870,139],[2910,141],[2918,181],[2836,247],[2932,240],[2769,271],[2920,302],[2936,324],[2767,370],[2833,372],[2869,489],[2735,664],[2807,677],[2838,665],[2889,693],[2743,731],[2802,723],[2809,721],[2750,764],[2866,767],[2888,779],[2917,778],[2813,880],[2919,926],[2906,1050],[2763,1074],[2791,1068],[2931,1098],[2786,1126],[2778,1175],[2886,1184],[2901,1191],[2738,1206],[2842,1361],[2758,1382],[2785,1392],[2867,1380],
[2835,1417],[2832,1440],[2926,1467],[2770,1501],[2801,1539],[2873,1529],[2846,1574],[2885,1621],[2857,1731],[2895,1742],[2762,1773],[2781,1796],[2794,1823],[2831,1817],[2863,1821],[2878,1829],[2733,1832],[2852,1871],[2861,1897],[2822,2014],[2898,2014],[2847,2031],[2927,2050],[2751,2068],[2784,2076],[2876,2098],[2777,2119],[2855,2123],[2858,2138],[2930,2119],[2766,2162],[2839,2176],[2744,2201],[2737,2239],[2789,2264],[2811,2264],[2761,2291],[2823,2302],[2850,2305],[2798,2364],[2829,2515],[2820,2591],[2765,2611],[2893,2604],[2805,2645],[2843,2702],[2879,2758],
[2776,2840],[2860,2840],[2892,2850],[2814,2946],[2792,2987],[2819,3105],[2898,3106],[2871,3133],[2935,3146],[2756,3171],[2747,3218],[2928,3283],[2923,3320],[2915,3400],[2922,3400],[2875,3439],[2854,3473],[2755,3478],[2912,3536],[2788,3580],[2874,3674],[2815,3724],[2809,3731],[2734,3751],[2880,3825],[2882,3952],[2749,3978],[2782,4016],[2825,4010],[2745,4035],[2773,4147],[2800,4172]];

const s15=[[3121,20],[3126,95],[3010,152],[3002,166],[2950,213],[3053,199],[3107,197],[3136,222],[2951,266],[3124,303],[3026,381],[2971,425],[2983,425],[3113,418],[3000,462],[3030,458],[3086,486],[3135,484],[2939,575],[3077,606],[2987,630],[2995,700],[3050,721],[3025,809],[3027,808],[3115,813],[3139,835],[3116,881],[2969,922],[3084,1038],[2958,1088],[3130,1206],[3065,1275],[2990,1292],[3104,1318],[3068,1366],[3101,1381],
[2947,1412],[2984,1427],[3044,1421],[3061,1452],[2937,1502],[2941,1566],[3141,1625],[3062,1715],[2971,1783],[2980,1787],[3012,1774],[3032,1764],[3059,1770],[3083,1783],[3058,1798],[3038,1906],[3090,2014],[3019,2014],[2988,2028],[3088,2027],[3132,2037],[3021,2090],[2975,2164],[2993,2230],[2961,2315],[2957,2364],[2943,2406],[2962,2425],[3018,2510],[3109,2547],[3009,2620],[3022,2644],[2976,2689],[2997,2776],[3073,2776],
[3001,2844],[3096,2879],[3029,2892],[2967,2908],[3015,2908],[3095,2968],[3035,2992],[2959,3044],[3138,3187],[3067,3278],[3110,3282],[3127,3328],[3070,3353],[3080,3396],[3123,3394],[2955,3467],[3098,3475],[3092,3499],[3076,3515],[3071,3580],[3044,3736],[3039,3736],[3088,3744],[3081,3756],[3099,3811],[3105,3914],[3013,3936],[2963,3999],[2991,4027],[3036,4012],[3047,4045],[2998,4063],[3007,4068],[3093,4080]];

const s16=[[3152,27],[3157,35],[3297,32],[3200,141],[3233,190],[3260,190],[3274,198],[3165,198],[3178,224],[3320,198],[3343,190],[3334,223],[3215,315],[3177,398],[3279,419],[3182,431],[3190,454],[3298,466],[3227,500],[3221,560],[3341,569],[3196,698],[3254,693],[3264,691],[3283,778],[3310,774],[3151,835],[3159,892],[3219,925],[3161,966],[3223,1005],[3300,1016],[3234,1038],[3146,1080],[3276,1115],[3244,1147],[3287,1254],[3202,1389],
[3144,1525],[3163,1572],[3266,1566],[3316,1702],[3345,1714],[3327,1784],[3213,1815],[3198,1834],[3175,1848],[3184,1971],[3294,2037],[3337,2043],[3231,2059],[3236,2240],[3281,2242],[3256,2256],[3207,2642],[3229,2635],[3247,2634],[3302,2629],[3308,2629],
[3150,2823],[3173,2842],[3181,2844],[3187,2861],[3289,2844],[3323,2927],[3248,2941],[3269,3135],[3250,3179],[3258,3256],[3155,3281],[3291,3291],[3335,3337],[3206,3351],[3192,3362],[3210,3360],[3252,3363],[3225,3377],[3142,3684],[3292,3680],[3325,3678],[3329,3770],[3313,3862],[3322,3866],[3267,4062],[3318,4062],[3271,4120],[3262,4153],[3171,4172]];

const s17=[[3412,92],[3346,149],[3516,145],[3506,163],[3418,220],[3448,222],[3526,274],[3370,305],[3426,322],[3453,379],[3380,407],[3549,399],[3486,416],[3522,437],[3465,454],[3494,507],[3472,593],[3434,674],[3421,685],[3455,687],[3392,705],[3470,705],[3354,733],[3499,733],[3548,757],[3407,789],[3541,815],[3394,849],[3428,944],[3488,947],[3402,992],[3423,1000],[3490,996],[3528,1008],[3474,1039],[3536,1049],[3358,1098],[3519,1097],[3360,1134],[3484,1134],[3429,1168],[3507,1243],[3419,1302],
[3521,1450],[3351,1793],[3374,1786],[3362,1813],[3451,1785],[3478,1786],[3458,1811],[3524,1803],[3436,1884],[3468,1882],[3497,1888],[3460,2012],[3395,2130],[3365,2245],[3372,2266],[3385,2271],[3405,2256],[3545,2265],[3353,2336],[3504,2349],[3544,2558],[3415,2601],[3409,2612],[3375,2622],[3543,2649],[3539,2677],[3440,2771],[3449,2768],[3492,2774],
[3387,2885],[3416,2949],[3382,2991],[3356,3058],[3511,3072],[3399,3115],[3368,3217],[3477,3243],[3457,3254],[3378,3282],[3390,3307],[3348,3317],[3512,3341],[3397,3396],[3444,3475],[3403,3495],[3502,3498],[3442,3555],[3529,3585],[3425,3686],[3534,3717],[3538,3766],[3446,3786],[3464,3787],[3363,3803],[3441,3803],[3475,3812],[3466,3831],[3461,3881],[3410,3897],[3376,3943],[3509,3942]];

const s18=[[3613,51],[3725,83],[3687,160],[3555,245],[3643,385],[3574,491],[3577,581],[3625,733],[3582,730],[3559,740],[3617,786],[3592,844],[3723,864],[3632,924],[3627,949],[3689,1045],[3646,1132],[3560,1153],[3594,1193],[3576,1199],[3728,1292],[3648,1361],
[3739,1413],[3721,1432],[3701,1447],[3737,1447],[3637,1511],[3730,1609],[3732,1770],[3601,1783],[3569,1807],[3668,1869],[3621,1880],[3584,1970],[3715,1972],[3686,1993],[3598,2086],[3684,2086],[3750,2100],[3752,2112],[3746,2132],[3672,2219],[3557,2268],[3586,2276],[3629,2291],[3682,2397],[3676,2649],[3699,2768],[3611,2813],
[3666,2837],[3607,2858],[3674,2856],[3748,2888],[3718,2906],[3619,2926],[3664,2926],[3703,2947],[3742,2947],[3580,2960],[3596,3001],[3641,3046],[3656,3091],[3654,3191],[3696,3185],[3694,3202],[3711,3282],[3678,3298],[3717,3461],[3651,3499],[3615,3534],[3605,3666],[3603,3737],[3609,3745],[3570,3760],[3705,3745],[3727,3807],[3707,3835],[3670,3901],[3552,3954],[3691,3953],[3567,4081],[3698,4100],[3562,4153],[3662,4147],[3599,4170],[3645,4170]];

const s19=[[3942,203],[3919,356],[3959,446],[3775,482],[3841,484],[3759,631],[3798,779],[3864,771],[3857,859],[3952,946],[3814,1076],[3851,1088],[3873,1104],[3955,1167],[3788,1215],[3831,1228],[3900,1282],[3894,1301],[3860,1406],[3933,1405],
[3915,1528],[3782,1655],[3906,1746],[3765,1976],[3791,1974],[3785,2015],[3926,2024],[3877,2179],[3912,2234],[3853,2382],[3771,2621],[3755,2632],[3834,2638],[3886,2642],[3778,2705],
[3824,3094],[3883,3114],[3847,3275],[3837,3359],[3870,3475],[3909,3546],[3811,3555],[3948,3725],[3801,3802],[3817,3811],[3936,3858],[3938,3915],[3821,3931],[3880,4057],[3923,4090]];

const s20=[[4030,160],[4012,239],[4004,371],[4038,418],[4072,608],[4079,606],[3986,871],[4133,1086],[3967,1148],[4060,1169],[4104,1175],[4067,1287],
[4148,1574],[4093,1786],[4107,1848],[4111,1856],[4044,1866],[3996,1887],[3993,1919],[4122,2287],[3989,2434],[4008,2479],[4015,2517],[4063,2527],[4115,2629],[4085,2648],[4155,2662],
[3975,2875],[4034,2882],[4081,2999],[4052,3071],[4141,3070],[4145,3166],[3982,3277],[4137,3280],[4160,3280],[3963,3336],[4040,3330],[4049,3340],[4096,3360],[3978,3585],[4022,3639],[3959,3737],[4089,3741],[4126,3968],[4152,4015]];

const allSeries=[s01,s02,s03,s04,s05,s06,s07,s08,s09,s10,s11,s12,s13,s14,s15,s16,s17,s18,s19,s20];

const L=225,R=1620,T=215.7,B=1601.7;
const svg=d3.select("#chart").append("svg").attr("width",1800).attr("height",1800).attr("viewBox","0 0 1800 1800");
const x=d3.scaleLinear().domain([15,2610,4162]).range([L,1090,R]);
const y=d3.scaleLinear().domain([17,4175]).range([T,B]);
const band=d3.scaleBand().domain(anlgLabels).range([L,R]);
const chrMid=chrLabels.map((c,i)=>(chrEdges[i]+chrEdges[i+1])/2);
svg.append("defs").append("clipPath").attr("id","plot").append("rect").attr("x",L).attr("y",T).attr("width",R-L).attr("height",B-T);

const grid=svg.append("g").attr("stroke","#e6e6e6").attr("stroke-width",1.2).attr("stroke-dasharray","4 3").attr("fill","none");
grid.selectAll("line.v").data(anlgLabels.slice(1)).join("line").attr("class","v").attr("x1",d=>band(d)).attr("x2",d=>band(d)).attr("y1",T).attr("y2",B);
grid.selectAll("line.h").data(chrEdges.slice(1,-1)).join("line").attr("class","h").attr("x1",L).attr("x2",R).attr("y1",d=>y(d)).attr("y2",d=>y(d));

const dots=svg.append("g").attr("clip-path","url(#plot)");
allSeries.forEach((s,i)=>{
  dots.append("g").attr("fill",colours[i]).selectAll("circle").data(s).join("circle")
    .attr("cx",d=>x(d[0])).attr("cy",d=>y(d[1])).attr("r",3.3);
});

svg.append("rect").attr("x",L).attr("y",T).attr("width",R-L).attr("height",B-T).attr("fill","none").attr("stroke","#888888").attr("stroke-width",2);

const topAxis=svg.append("g").attr("transform",`translate(0,${T})`).call(d3.axisTop(band).tickSize(15).offset(0));
topAxis.select(".domain").remove();
topAxis.selectAll(".tick line").attr("stroke","#000").attr("stroke-width",3.3);
topAxis.selectAll(".tick text").attr("font-size",33.33).attr("font-family","DejaVu Sans").attr("text-anchor","start")
  .attr("dy",0).attr("y",0).attr("x",0).attr("transform","translate(-39,-35) rotate(-45)");

const rightAxis=svg.append("g").attr("transform",`translate(${R},0)`).call(
  d3.axisRight(y).tickValues(chrMid).tickFormat((d,i)=>chrLabels[i]).tickSize(15).offset(0));
rightAxis.select(".domain").remove();
rightAxis.selectAll(".tick line").attr("stroke","#000").attr("stroke-width",3.3);
rightAxis.selectAll(".tick text").attr("font-size",33.33).attr("font-family","DejaVu Sans").attr("x",29).attr("y",1.5);

svg.append("text").attr("x",(L+R)/2).attr("y",1651).attr("text-anchor","middle").attr("font-size",41.67).attr("font-style","italic").text("Annelida");
svg.append("text").attr("transform",`translate(200,${(T+B)/2}) rotate(-90)`).attr("text-anchor","middle").attr("font-size",41.67).attr("font-style","italic").text("Hirudo tianjinensis");
</script></body></html>
